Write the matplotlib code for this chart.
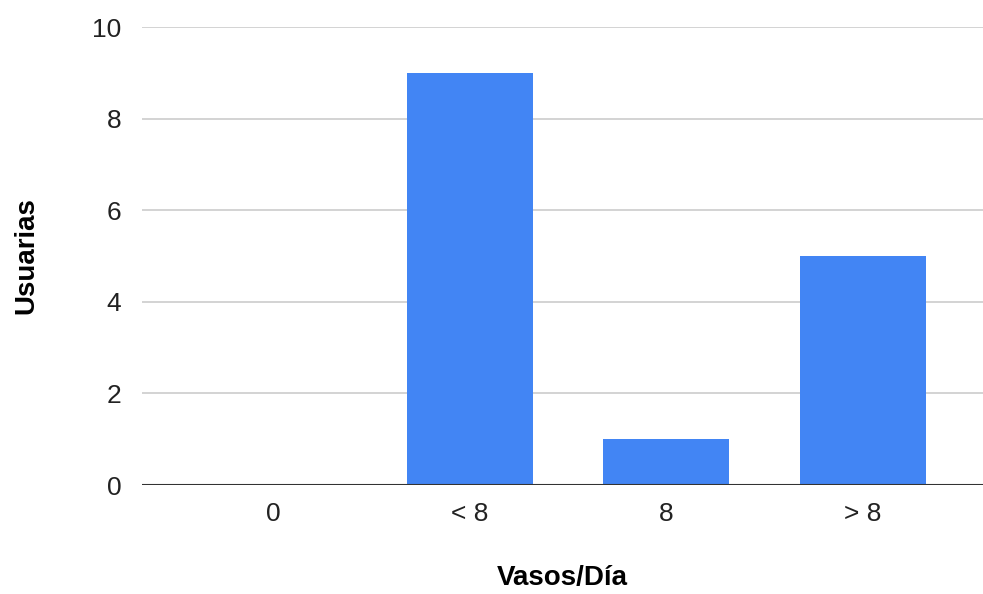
import matplotlib.pyplot as plt

categories = ['0', '< 8', '8', '> 8']
usuarias = [0, 9, 1, 5]
y_ticks = [0, 2, 4, 6, 8, 10]

BAR_COLOR = '#4285F4'

plt.rcParams['font.family'] = ['Liberation Sans', 'DejaVu Sans']

fig = plt.figure(figsize=(9.83, 5.94), dpi=100)
ax = fig.add_axes([0.1445, 0.1835, 0.8555, 0.7710])

x = list(range(len(categories)))
ax.bar(x, usuarias, width=0.64, color=BAR_COLOR, zorder=2)

ax.set_xlim(-0.665, 3.61)
ax.set_ylim(0, 10)
ax.set_xticks(x)
ax.set_xticklabels(categories)
ax.set_yticks(y_ticks)
ax.set_yticklabels([str(t) for t in y_ticks])

ax.grid(axis='y', color='#cccccc', linewidth=1.2, zorder=0)
ax.axhline(0, color='#333333', linewidth=1.5, zorder=3)
for s in ax.spines.values():
    s.set_visible(False)
ax.tick_params(axis='both', length=0, labelsize=19, colors='#222222')
ax.tick_params(axis='x', pad=12)
ax.tick_params(axis='y', pad=15)

ax.set_xlabel('Vasos/Día', fontsize=20, fontweight='bold', labelpad=28)
ax.set_ylabel('Usuarias', fontsize=20, fontweight='bold', labelpad=38)

fig.savefig('out.png', dpi=100)
